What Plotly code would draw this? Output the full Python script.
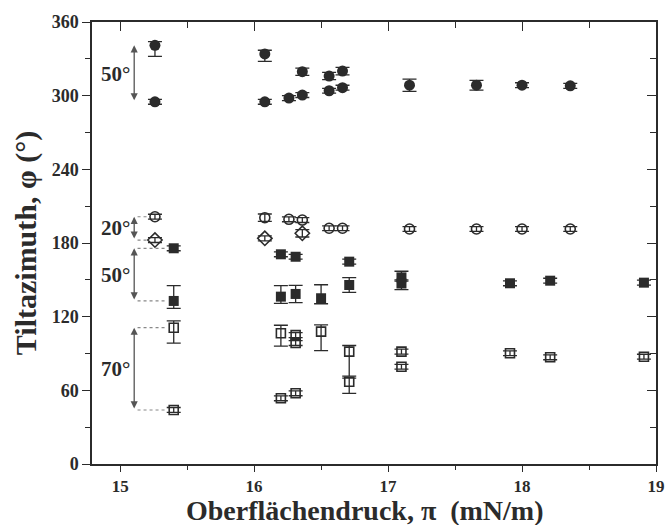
import plotly.graph_objects as go

# --- data -----------------------------------------------------------------
# filled circles (upper azimuth branch, ~300 deg)
fc_x = [15.26, 15.26, 16.08, 16.08, 16.26, 16.36, 16.36, 16.56, 16.56, 16.66, 16.66, 17.16, 17.66, 18.00, 18.36]
fc_y = [341, 295, 334, 295, 298, 319.5, 300.5, 316, 304, 320, 306.5, 308.5, 308.5, 308.5, 308]
fc_ep = [3, 2, 3, 2, 2, 3, 2, 3, 2, 3, 2, 5, 4, 2, 2]
fc_em = [9, 2, 6, 2, 2, 3, 2, 3, 2, 3, 2, 5, 4, 2, 2]

# open circles (~200 deg)
oc_x = [15.26, 16.08, 16.26, 16.36, 16.56, 16.66, 17.16, 17.66, 18.00, 18.36]
oc_y = [201.4, 200.6, 199.3, 198.7, 192, 192, 191.4, 191.4, 191.4, 191.4]
oc_e = [2, 3, 2, 2, 2, 2, 2, 2, 2, 2]

# open diamonds (~185 deg)
od_x = [15.26, 16.08, 16.36]
od_y = [182.4, 183.8, 187.9]
od_e = [2, 2, 3]

# filled squares (~150 deg)
fs_x = [15.40, 15.40, 16.20, 16.20, 16.31, 16.31, 16.50, 16.71, 16.71, 17.10, 17.10, 17.91, 18.21, 18.91]
fs_y = [175.7, 132.8, 170.8, 136.3, 168.8, 138.5, 135, 164.8, 145.8, 152, 147, 147.2, 149.3, 147.7]
fs_ep = [2, 12.5, 2, 9, 2, 7, 11, 2, 6, 5, 3, 2, 2, 2]
fs_em = [2, 6, 2, 5.5, 2, 7, 4.5, 2, 6, 3, 5, 2, 2, 2]

# open squares (~90 deg)
os_x = [15.40, 15.40, 16.20, 16.20, 16.31, 16.31, 16.31, 16.50, 16.71, 16.71, 17.10, 17.10, 17.91, 18.21, 18.91]
os_y = [111, 44, 106.5, 53.5, 105, 98.5, 57.6, 107.8, 91.5, 67, 91.5, 79.2, 90.2, 86.9, 87.4]
os_ep = [5.5, 2, 6.5, 2, 2, 2, 2, 5.5, 5, 3, 2, 2, 2, 2, 2]
os_em = [12.5, 2, 10.5, 2, 2, 2, 2, 15.5, 20, 9.5, 2, 2, 2, 2, 2]

x_ticks = [15, 16, 17, 18, 19]
y_ticks = [0, 60, 120, 180, 240, 300, 360]

x_title = "Oberflächendruck, π  (mN/m)"
y_title = "Tiltazimuth, φ (°)"

# angle brackets: label, upper value, lower value, marker x, dotted guides
brackets = [
    ("50°", fc_y[0], fc_y[1], fc_x[0], False),
    ("20°", oc_y[0], od_y[0], oc_x[0], True),
    ("50°", fs_y[0], fs_y[1], fs_x[0], True),
    ("70°", os_y[0], os_y[1], os_x[0], True),
]
bracket_x = 15.105

# --- styling --------------------------------------------------------------
INK = "#2b2b2b"
SERIF = "Liberation Serif, Times New Roman, serif"
W, H = 665, 525
M = dict(l=92, r=9, t=22, b=61)


def err(plus, minus=None):
    return dict(type="data", symmetric=minus is None, array=plus,
                arrayminus=minus, width=7, thickness=1.3, color=INK)


fig = go.Figure()

fig.add_trace(go.Scatter(x=fc_x, y=fc_y, mode="markers",
                         marker=dict(symbol="circle", size=11, color=INK),
                         error_y=err(fc_ep, fc_em)))
fig.add_trace(go.Scatter(x=oc_x, y=oc_y, mode="markers",
                         marker=dict(symbol="circle-open", size=10, color=INK,
                                     line=dict(width=1.6, color=INK)),
                         error_y=err(oc_e)))
fig.add_trace(go.Scatter(x=od_x, y=od_y, mode="markers",
                         marker=dict(symbol="diamond-open", size=11, color=INK,
                                     line=dict(width=1.6, color=INK)),
                         error_y=err(od_e)))
fig.add_trace(go.Scatter(x=fs_x, y=fs_y, mode="markers",
                         marker=dict(symbol="square", size=10, color=INK),
                         error_y=err(fs_ep, fs_em)))
fig.add_trace(go.Scatter(x=os_x, y=os_y, mode="markers",
                         marker=dict(symbol="square-open", size=9, color=INK,
                                     line=dict(width=1.6, color=INK)),
                         error_y=err(os_ep, os_em)))

# invisible copy so the mirrored top/right axes are drawn
fig.add_trace(go.Scatter(x=os_x, y=os_y, mode="markers", xaxis="x2", yaxis="y2",
                         marker=dict(opacity=0), hoverinfo="skip"))

annotations = []
shapes = []
for label, hi, lo, mx, dotted in brackets:
    annotations.append(dict(x=bracket_x, y=hi, ax=bracket_x, ay=lo,
                            xref="x", yref="y", axref="x", ayref="y",
                            text="", showarrow=True, arrowside="end+start",
                            arrowhead=2, arrowsize=1.1, arrowwidth=1.3,
                            arrowcolor="#555555", standoff=0, startstandoff=0))
    annotations.append(dict(x=bracket_x - 0.02, y=(hi + lo) / 2, xref="x", yref="y",
                            text=label, showarrow=False, xanchor="right",
                            yanchor="middle",
                            font=dict(family=SERIF, size=21, color=INK, weight="bold")))
    if dotted:
        for yv in (hi, lo):
            shapes.append(dict(type="line", xref="x", yref="y",
                               x0=bracket_x + 0.025, x1=mx - 0.06, y0=yv, y1=yv,
                               line=dict(color="#888888", width=1.2, dash="dot")))

# x-axis title placed as a paper annotation just under the tick labels
plot_w = W - M["l"] - M["r"]
plot_h = H - M["t"] - M["b"]
annotations.append(dict(text=x_title, showarrow=False, xref="paper", yref="paper",
                        x=(365 - M["l"]) / plot_w, y=-(493 - (H - M["b"])) / plot_h,
                        xanchor="center", yanchor="top",
                        font=dict(family=SERIF, size=28, color=INK, weight="bold")))

axis_common = dict(showgrid=False, zeroline=False, showline=True, automargin=False,
                   linecolor=INK, linewidth=1.5, tickcolor=INK, tickwidth=1.3)

fig.update_layout(
    width=W, height=H,
    margin=M,
    paper_bgcolor="white", plot_bgcolor="white",
    showlegend=False,
    annotations=annotations, shapes=shapes,
    xaxis=dict(range=[14.79, 19.0], tickvals=x_ticks, ticks="outside", ticklen=6,
               minor=dict(dtick=0.5, tick0=15, ticks="outside", ticklen=4,
                          tickcolor=INK, tickwidth=1.2),
               tickfont=dict(family=SERIF, size=17, color=INK, weight="bold"),
               **axis_common),
    yaxis=dict(range=[0, 360], tickvals=y_ticks, ticks="outside", ticklen=8,
               minor=dict(dtick=30, tick0=0, ticks="outside", ticklen=5,
                          tickcolor=INK, tickwidth=1.2),
               tickfont=dict(family=SERIF, size=18, color=INK, weight="bold"),
               title=dict(text=y_title, standoff=6,
                          font=dict(family=SERIF, size=30, color=INK, weight="bold")),
               **axis_common),
    xaxis2=dict(overlaying="x", side="top", matches="x", range=[14.79, 19.0],
                tickvals=x_ticks, ticks="inside", ticklen=9, showticklabels=False,
                minor=dict(dtick=0.5, tick0=15, ticks="inside", ticklen=6,
                           tickcolor=INK, tickwidth=1.2),
                anchor="y", **axis_common),
    yaxis2=dict(overlaying="y", side="right", matches="y", range=[0, 360],
                tickvals=y_ticks, ticks="inside", ticklen=9, showticklabels=False,
                minor=dict(dtick=30, tick0=0, ticks="inside", ticklen=6,
                           tickcolor=INK, tickwidth=1.2),
                anchor="x", **axis_common),
)

fig.write_html("out.html")
